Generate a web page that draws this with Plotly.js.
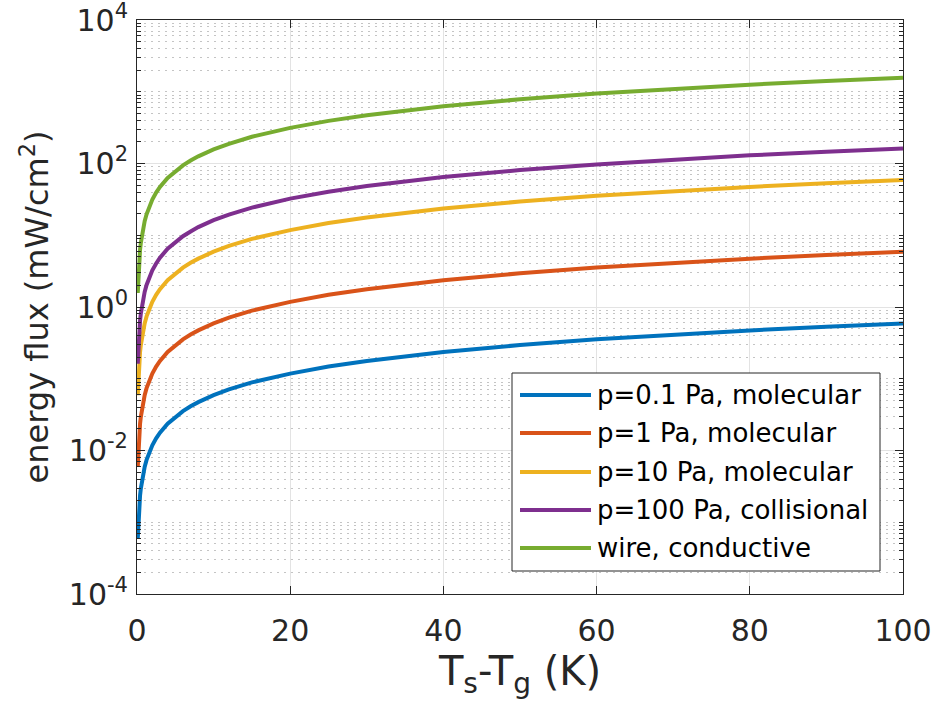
<!DOCTYPE html>
<html>
<head>
<meta charset="utf-8">
<script src="https://cdn.plot.ly/plotly-3.0.1.min.js"></script>
<style>
  html, body { margin: 0; padding: 0; background: #ffffff; }
  #chart { width: 931px; height: 713px; }
</style>
</head>
<body>
<div id="chart"></div>
<script>
// Temperature difference between surface and gas (K)
const deltaT = [0.1, 0.2, 0.3, 0.4, 0.5, 0.6, 0.8, 1, 1.25, 1.5, 2, 2.5, 3, 4, 5, 6, 7, 8,
                10, 12, 15, 20, 25, 30, 40, 50, 60, 70, 80, 90, 100];

// Energy flux (mW/cm^2) for each case
const flux01Pa = [0.00059, 0.00118, 0.00177, 0.00236, 0.00295, 0.00354, 0.00472, 0.0059, 0.0074, 0.0089,
                  0.0118, 0.0148, 0.0177, 0.0236, 0.0295, 0.0354, 0.0413, 0.0472, 0.059, 0.071, 0.089,
                  0.118, 0.148, 0.177, 0.236, 0.295, 0.354, 0.413, 0.472, 0.531, 0.59];
const flux1Pa = [0.0059, 0.0118, 0.0177, 0.0236, 0.0295, 0.0354, 0.0472, 0.059, 0.074, 0.089,
                 0.118, 0.148, 0.177, 0.236, 0.295, 0.354, 0.413, 0.472, 0.59, 0.71, 0.89,
                 1.18, 1.48, 1.77, 2.36, 2.95, 3.54, 4.13, 4.72, 5.31, 5.9];
const flux10Pa = [0.059, 0.118, 0.177, 0.236, 0.295, 0.354, 0.472, 0.59, 0.74, 0.89,
                  1.18, 1.48, 1.77, 2.36, 2.95, 3.54, 4.13, 4.72, 5.9, 7.1, 8.9,
                  11.8, 14.8, 17.7, 23.6, 29.5, 35.4, 41.3, 47.2, 53.1, 59];
const flux100Pa = [0.162, 0.324, 0.486, 0.648, 0.81, 0.97, 1.3, 1.62, 2.03, 2.43,
                   3.24, 4.05, 4.86, 6.48, 8.1, 9.7, 11.3, 13.0, 16.2, 19.4, 24.3,
                   32.4, 40.5, 48.6, 64.8, 81, 97, 113, 130, 146, 162];
const fluxWire = [1.57, 3.14, 4.71, 6.28, 7.85, 9.4, 12.6, 15.7, 19.6, 23.6,
                  31.4, 39.3, 47.1, 62.8, 78.5, 94, 110, 126, 157, 188, 236,
                  314, 393, 471, 628, 785, 942, 1100, 1256, 1413, 1570];

const seriesNames = ['p=0.1 Pa, molecular', 'p=1 Pa, molecular', 'p=10 Pa, molecular',
                     'p=100 Pa, collisional', 'wire, conductive'];
const seriesColors = ['#0072BD', '#D95319', '#EDB120', '#7E2F8E', '#77AC30'];
const seriesValues = [flux01Pa, flux1Pa, flux10Pa, flux100Pa, fluxWire];

// Axis ticks
const xTickVals = [0, 20, 40, 60, 80, 100];
const yTickVals = [1e-4, 1e-2, 1, 1e2, 1e4];
const yTickText = ['10<sup>-4</sup>', '10<sup>-2</sup>', '10<sup>0</sup>', '10<sup>2</sup>', '10<sup>4</sup>'];

// Minor log ticks: every 1..9 x 10^n, except the labelled decades
const yMinorVals = [];
for (let e = -4; e < 4; e++) {
  for (let d = 1; d <= 9; d++) {
    if (d === 1 && e % 2 === 0) continue;
    yMinorVals.push(d * Math.pow(10, e));
  }
}

const FONT = 'DejaVu Sans';
const AX = '#262626';

const traces = seriesValues.map((vals, i) => ({
  x: deltaT,
  y: vals,
  name: seriesNames[i],
  type: 'scatter',
  mode: 'lines',
  line: { color: seriesColors[i], width: 4 },
  showlegend: false
}));

// Plot area in pixels (used to lay out the boxed legend)
const L = 137, R = 28, T = 20, B = 119;
const W = 931, H = 713;
const pw = W - L - R, ph = H - T - B;
const px = v => (v - L) / pw;
const py = v => (H - B - v) / ph;

const legBox = { x0: 512, x1: 880, y0: 373, y1: 571 };
const legRows = [395, 433, 472, 510, 548];
const shapes = [{
  type: 'rect', xref: 'paper', yref: 'paper', layer: 'above',
  x0: px(legBox.x0), x1: px(legBox.x1), y0: py(legBox.y1), y1: py(legBox.y0),
  line: { color: '#262626', width: 1 }, fillcolor: '#ffffff'
}];
const annotations = [];
seriesNames.forEach((name, i) => {
  shapes.push({
    type: 'line', xref: 'paper', yref: 'paper', layer: 'above',
    x0: px(520), x1: px(591), y0: py(legRows[i]), y1: py(legRows[i]),
    line: { color: seriesColors[i], width: 4 }
  });
  annotations.push({
    xref: 'paper', yref: 'paper', x: px(595), y: py(legRows[i]),
    xanchor: 'left', yanchor: 'middle', showarrow: false, text: name,
    font: { family: FONT, size: 26, color: '#000000' }
  });
});

const layout = {
  width: W, height: H,
  margin: { l: L, r: R, t: T, b: B },
  paper_bgcolor: '#ffffff', plot_bgcolor: '#ffffff',
  showlegend: false,
  xaxis: {
    range: [0, 100], tickmode: 'array', tickvals: xTickVals,
    ticks: 'inside', ticklen: 8, tickcolor: AX, tickwidth: 1,
    showline: true, linecolor: AX, linewidth: 1, mirror: 'ticks',
    showgrid: true, gridcolor: '#e3e3e3', gridwidth: 1, zeroline: false,
    tickfont: { family: FONT, size: 30, color: AX },
    ticklabelstandoff: 10, ticklabeloverflow: 'allow',
    title: { text: 'T<sub>s</sub>-T<sub>g</sub> (K)', font: { family: FONT, size: 40, color: AX }, standoff: 0 },
    automargin: false
  },
  yaxis: {
    type: 'log', range: [-4, 4], tickmode: 'array', tickvals: yTickVals, ticktext: yTickText,
    ticks: 'inside', ticklen: 8, tickcolor: AX, tickwidth: 1,
    showline: true, linecolor: AX, linewidth: 1, mirror: 'ticks',
    showgrid: true, gridcolor: '#e3e3e3', gridwidth: 1, zeroline: false,
    tickfont: { family: FONT, size: 30, color: AX },
    ticklabelstandoff: 2, ticklabeloverflow: 'allow',
    minor: {
      tickmode: 'array', tickvals: yMinorVals,
      ticks: 'inside', ticklen: 4, tickcolor: AX, tickwidth: 1,
      showgrid: true, gridcolor: '#c4c4c4', gridwidth: 1, griddash: '2px,5px'
    },
    title: { text: 'energy flux (mW/cm<sup>2</sup>)', font: { family: FONT, size: 32, color: AX }, standoff: 10 },
    automargin: false
  },
  shapes: shapes,
  annotations: annotations
};

Plotly.newPlot('chart', traces, layout, { staticPlot: true, displayModeBar: false });
</script>
</body>
</html>
